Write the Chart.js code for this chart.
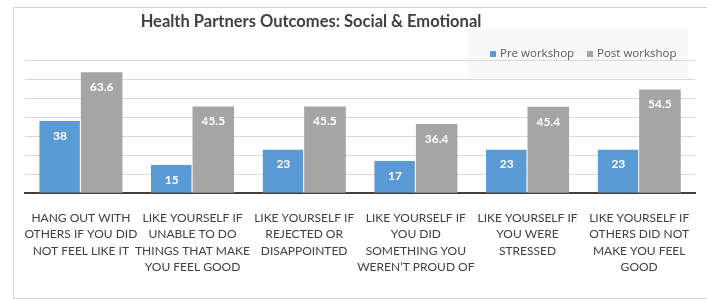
<!DOCTYPE html>
<html>
<head>
<meta charset="utf-8">
<script src="https://cdn.jsdelivr.net/npm/chart.js@4.4.1/dist/chart.umd.min.js"></script>
<style>
html,body{margin:0;padding:0;background:#fff;overflow:hidden;}
#frame{position:absolute;left:13px;top:7px;width:720px;height:290px;border:1px solid #d4d4d4;}
#wrap{position:absolute;left:0;top:0;width:707px;height:299px;}
</style>
</head>
<body>
<div id="frame"></div>
<div id="wrap"><canvas id="c" width="707" height="299"></canvas></div>
<script>
const categories = [
  ["HANG OUT WITH","OTHERS IF YOU DID","NOT FEEL LIKE IT"],
  ["LIKE YOURSELF IF","UNABLE TO DO","THINGS THAT MAKE","YOU FEEL GOOD"],
  ["LIKE YOURSELF IF","REJECTED OR","DISAPPOINTED"],
  ["LIKE YOURSELF IF","YOU DID","SOMETHING YOU","WEREN\u2019T PROUD OF"],
  ["LIKE YOURSELF IF","YOU WERE","STRESSED"],
  ["LIKE YOURSELF IF","OTHERS DID NOT","MAKE YOU FEEL","GOOD"]
];
const preWorkshop = [38, 15, 23, 17, 23, 23];
const postWorkshop = [63.6, 45.5, 45.5, 36.4, 45.4, 54.5];
const seriesNames = ["Pre workshop", "Post workshop"];
const titleText = "Health Partners Outcomes: Social & Emotional";
const yMax = 70, yStep = 10;

const colors = ["#5B9BD5", "#A5A5A5"];

const titleLegendPlugin = {
  id: 'titleLegend',
  beforeDraw(chart) {
    const ctx = chart.ctx;
    ctx.save();
    ctx.fillStyle = '#f8f8f8';
    ctx.fillRect(467, 27, 221, 51);
    ctx.restore();
  },
  afterDraw(chart) {
    const ctx = chart.ctx;
    ctx.save();
    ctx.font = 'bold 16.5px Lato';
    ctx.fillStyle = '#404040';
    ctx.textAlign = 'center';
    ctx.textBaseline = 'middle';
    ctx.fillText(titleText, 311, 22);
    ctx.font = '11.5px "Open Sans"';
    ctx.textAlign = 'left';
    const xs = [490, 587];
    xs.forEach((x, i) => {
      ctx.fillStyle = colors[i];
      ctx.fillRect(x, 51, 6, 6);
      ctx.fillStyle = '#595959';
      ctx.fillText(seriesNames[i], x + 10, 54);
    });
    ctx.restore();
  }
};

const barLabelPlugin = {
  id: 'barLabels',
  afterDatasetsDraw(chart) {
    const ctx = chart.ctx;
    ctx.save();
    ctx.font = 'bold 12px Lato';
    ctx.fillStyle = '#ffffff';
    ctx.textAlign = 'center';
    ctx.textBaseline = 'middle';
    chart.data.datasets.forEach((ds, di) => {
      chart.getDatasetMeta(di).data.forEach((bar, i) => {
        ctx.fillText(String(ds.data[i]), bar.x, bar.y + 15);
      });
    });
    ctx.restore();
  }
};

new Chart(document.getElementById('c'), {
  type: 'bar',
  data: {
    labels: categories,
    datasets: [
      {label: seriesNames[0], data: preWorkshop, backgroundColor: colors[0], borderColor: '#ffffff', borderWidth: {left: 0, right: 1, top: 0, bottom: 0}, borderSkipped: false},
      {label: seriesNames[1], data: postWorkshop, backgroundColor: colors[1], borderColor: '#ffffff', borderWidth: 0}
    ]
  },
  options: {
    responsive: false,
    animation: false,
    devicePixelRatio: 1,
    layout: {padding: {left: 25, right: 12, top: 60, bottom: 15}},
    plugins: {legend: {display: false}, title: {display: false}, tooltip: {enabled: false}},
    datasets: {bar: {categoryPercentage: 0.745, barPercentage: 1}},
    scales: {
      x: {
        grid: {display: false},
        border: {display: true, color: '#404040', width: 2},
        ticks: {color: '#404040', font: {family: 'Lato', size: 12, lineHeight: 1.35}, padding: 9, maxRotation: 0, autoSkip: false}
      },
      y: {
        min: 0, max: yMax,
        ticks: {display: false, stepSize: yStep},
        border: {display: false},
        grid: {color: (c) => c.tick.value === 0 ? 'rgba(0,0,0,0)' : '#d9d9d9', drawTicks: false}
      }
    }
  },
  plugins: [titleLegendPlugin, barLabelPlugin]
});
</script>
</body>
</html>
